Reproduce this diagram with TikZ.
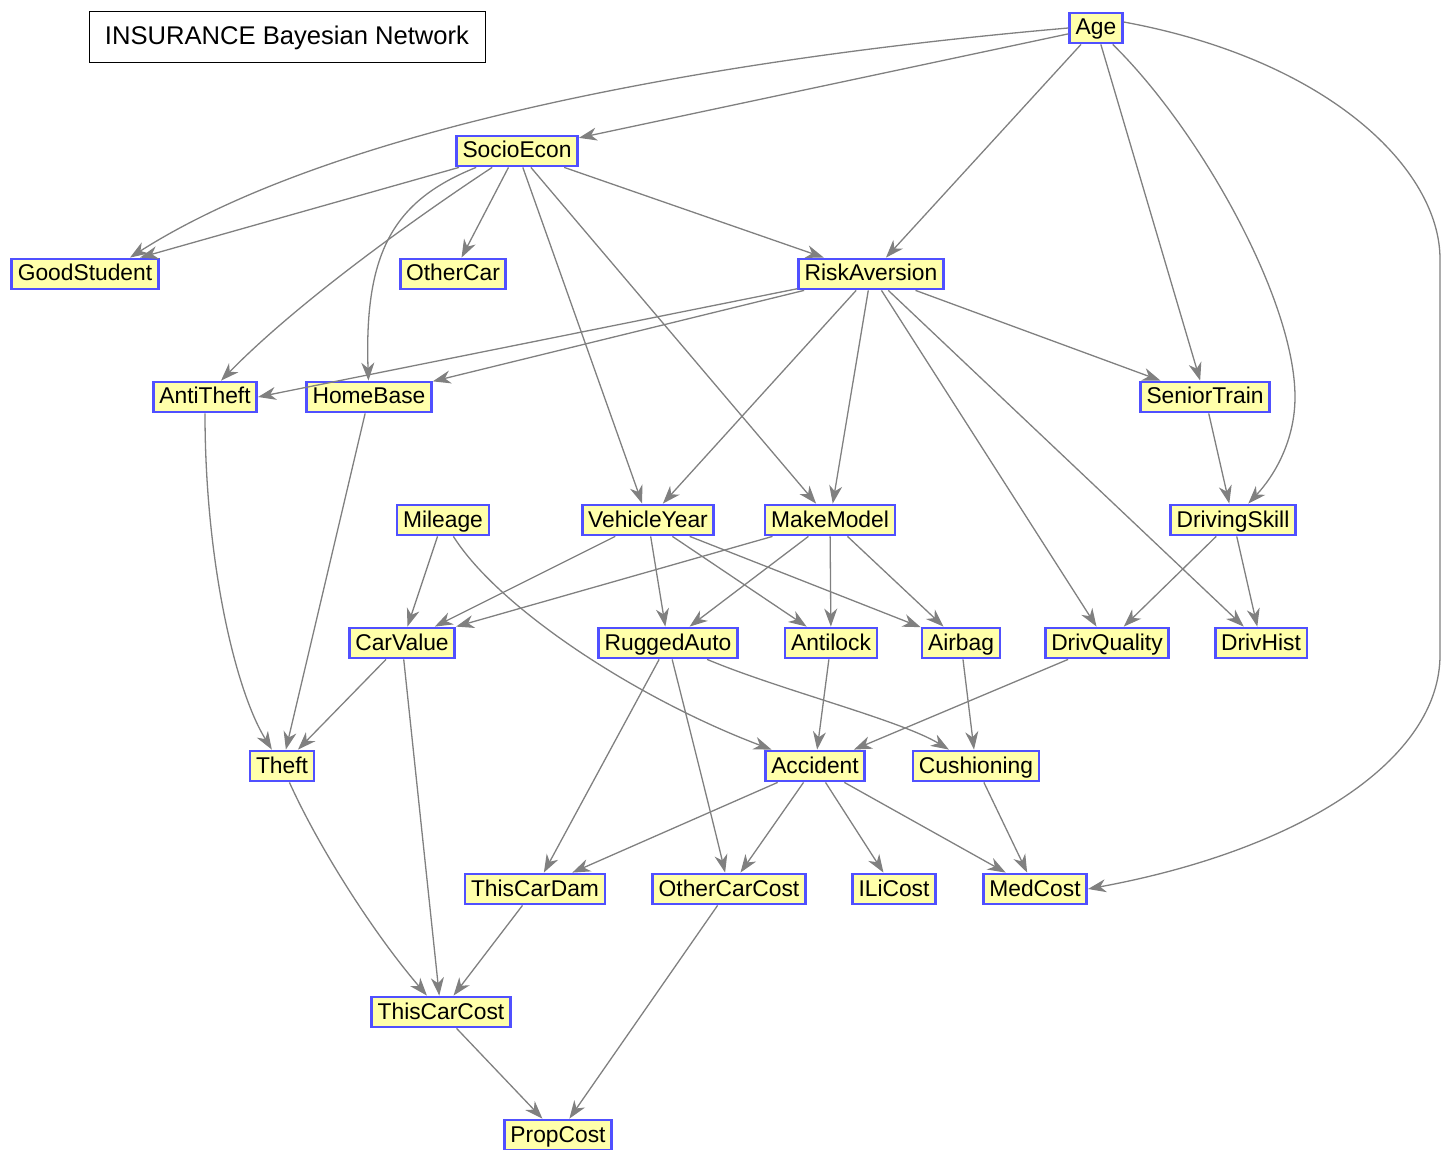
\documentclass[tikz,border=0pt]{standalone}
\usepackage{fontspec}
\setmainfont{Liberation Sans}
\usetikzlibrary{arrows.meta,calc}
\definecolor{nodefill}{HTML}{FFFFAA}
\definecolor{nodeline}{HTML}{5050FF}
\definecolor{edgegray}{HTML}{808080}
\begin{document}
\begin{tikzpicture}[x=0.5pt,y=-0.5pt,
  var/.style={draw=nodeline, fill=nodefill, line width=1.4pt,
    font=\fontsize{11.4pt}{13pt}\selectfont, minimum height=15pt,
    text height=8.8pt, text depth=1.8pt,
    inner xsep=3pt, inner ysep=1pt},
  dep/.style={draw=edgegray, line width=0.65pt,
    -{Stealth[length=9pt,width=6.5pt,inset=2.8pt]}}]
\useasboundingbox (0,0) rectangle (1447,1150);

% title
\node[draw=black, line width=0.5pt, minimum width=198pt, minimum height=25.5pt,
  font=\fontsize{12.8pt}{15pt}\selectfont] (title) at (287,37.5) {INSURANCE Bayesian Network};

% variables
\node[var] (Age) at (1096,28) {Age};
\node[var] (SocioEcon) at (517,151) {SocioEcon};
\node[var] (GoodStudent) at (85,274) {GoodStudent};
\node[var] (OtherCar) at (453,274) {OtherCar};
\node[var] (RiskAversion) at (871,274) {RiskAversion};
\node[var] (AntiTheft) at (205,397) {AntiTheft};
\node[var] (HomeBase) at (369,397) {HomeBase};
\node[var] (SeniorTrain) at (1205,397) {SeniorTrain};
\node[var] (Mileage) at (443,520) {Mileage};
\node[var] (VehicleYear) at (648,520) {VehicleYear};
\node[var] (MakeModel) at (830,520) {MakeModel};
\node[var] (DrivingSkill) at (1233,520) {DrivingSkill};
\node[var] (CarValue) at (402,643) {CarValue};
\node[var] (RuggedAuto) at (668,643) {RuggedAuto};
\node[var] (Antilock) at (831,643) {Antilock};
\node[var] (Airbag) at (961,643) {Airbag};
\node[var] (DrivQuality) at (1107,643) {DrivQuality};
\node[var] (DrivHist) at (1261,643) {DrivHist};
\node[var] (Theft) at (282,766) {Theft};
\node[var] (Accident) at (815,766) {Accident};
\node[var] (Cushioning) at (976,766) {Cushioning};
\node[var] (ThisCarDam) at (535,889) {ThisCarDam};
\node[var] (OtherCarCost) at (729,889) {OtherCarCost};
\node[var] (ILiCost) at (894,889) {ILiCost};
\node[var] (MedCost) at (1035,889) {MedCost};
\node[var] (ThisCarCost) at (441,1012) {ThisCarCost};
\node[var] (PropCost) at (558,1135) {PropCost};

% routing points of the long Age edges
\coordinate (ds1) at (1295,397);
\coordinate (mc1) at (1440,259);
\coordinate (mc2) at (1440,655);

% dependencies
\draw[dep] (Age) -- (SocioEcon);
\draw[dep] (Age.west) .. controls (700,60) and (330,130) .. ($(GoodStudent.north)+(45,0)$);
\draw[dep] (Age) -- (RiskAversion);
\draw[dep] (Age) -- (SeniorTrain);
\draw[dep] (Age) .. controls (1200,130) and (1295,300) .. (ds1)
  .. controls (1295,440) and (1275,475) .. (DrivingSkill);
\draw[dep] ($(Age.east)+(0,-6)$) .. controls (1330,60) and (1440,170) .. (mc1) -- (mc2)
  .. controls (1440,760) and (1300,850) .. (MedCost.east);

\draw[dep] (SocioEcon) -- ($(GoodStudent.north)+(55,0)$);
\draw[dep] (SocioEcon) .. controls (420,215) and (300,300) .. (AntiTheft);
\draw[dep] (SocioEcon) .. controls (395,200) and (364,250) .. (HomeBase);
\draw[dep] (SocioEcon) -- (OtherCar);
\draw[dep] (SocioEcon) -- (VehicleYear);
\draw[dep] (SocioEcon) -- (MakeModel);
\draw[dep] (SocioEcon) -- (RiskAversion);

\draw[dep] (RiskAversion) -- (AntiTheft.east);
\draw[dep] (RiskAversion) -- (HomeBase);
\draw[dep] (RiskAversion) -- (VehicleYear);
\draw[dep] (RiskAversion) -- (MakeModel);
\draw[dep] (RiskAversion) -- (DrivQuality);
\draw[dep] (RiskAversion) -- (DrivHist);
\draw[dep] (RiskAversion) -- (SeniorTrain);

\draw[dep] (AntiTheft) .. controls (205,560) and (235,690) .. (Theft);
\draw[dep] (HomeBase) -- (Theft);
\draw[dep] (SeniorTrain) -- (DrivingSkill);

\draw[dep] (Mileage) -- (CarValue);
\draw[dep] (Mileage) .. controls (500,610) and (640,700) .. (Accident);
\draw[dep] (VehicleYear) -- (CarValue);
\draw[dep] (VehicleYear) -- (RuggedAuto);
\draw[dep] (VehicleYear) -- (Antilock);
\draw[dep] (VehicleYear) -- (Airbag);
\draw[dep] (MakeModel) -- (CarValue.north east);
\draw[dep] (MakeModel) -- (RuggedAuto);
\draw[dep] (MakeModel) -- (Antilock);
\draw[dep] (MakeModel) -- (Airbag);
\draw[dep] (DrivingSkill) -- (DrivQuality);
\draw[dep] (DrivingSkill) -- (DrivHist);

\draw[dep] (CarValue) -- (Theft);
\draw[dep] (CarValue) -- (ThisCarCost);
\draw[dep] (RuggedAuto) -- (ThisCarDam);
\draw[dep] (RuggedAuto) .. controls (690,730) and (715,830) .. (OtherCarCost);
\draw[dep] (RuggedAuto) .. controls (780,690) and (900,720) .. (Cushioning);
\draw[dep] (Antilock) -- (Accident);
\draw[dep] (Airbag) -- (Cushioning);
\draw[dep] (DrivQuality) -- (Accident);

\draw[dep] (Theft) .. controls (320,850) and (375,935) .. (ThisCarCost);
\draw[dep] (Accident) -- (ThisCarDam);
\draw[dep] (Accident) -- (OtherCarCost);
\draw[dep] (Accident) -- (ILiCost);
\draw[dep] (Accident) -- (MedCost);
\draw[dep] (Cushioning) -- (MedCost);
\draw[dep] (ThisCarDam) -- (ThisCarCost);
\draw[dep] (OtherCarCost) -- (PropCost);
\draw[dep] (ThisCarCost) -- (PropCost);
\end{tikzpicture}
\end{document}
